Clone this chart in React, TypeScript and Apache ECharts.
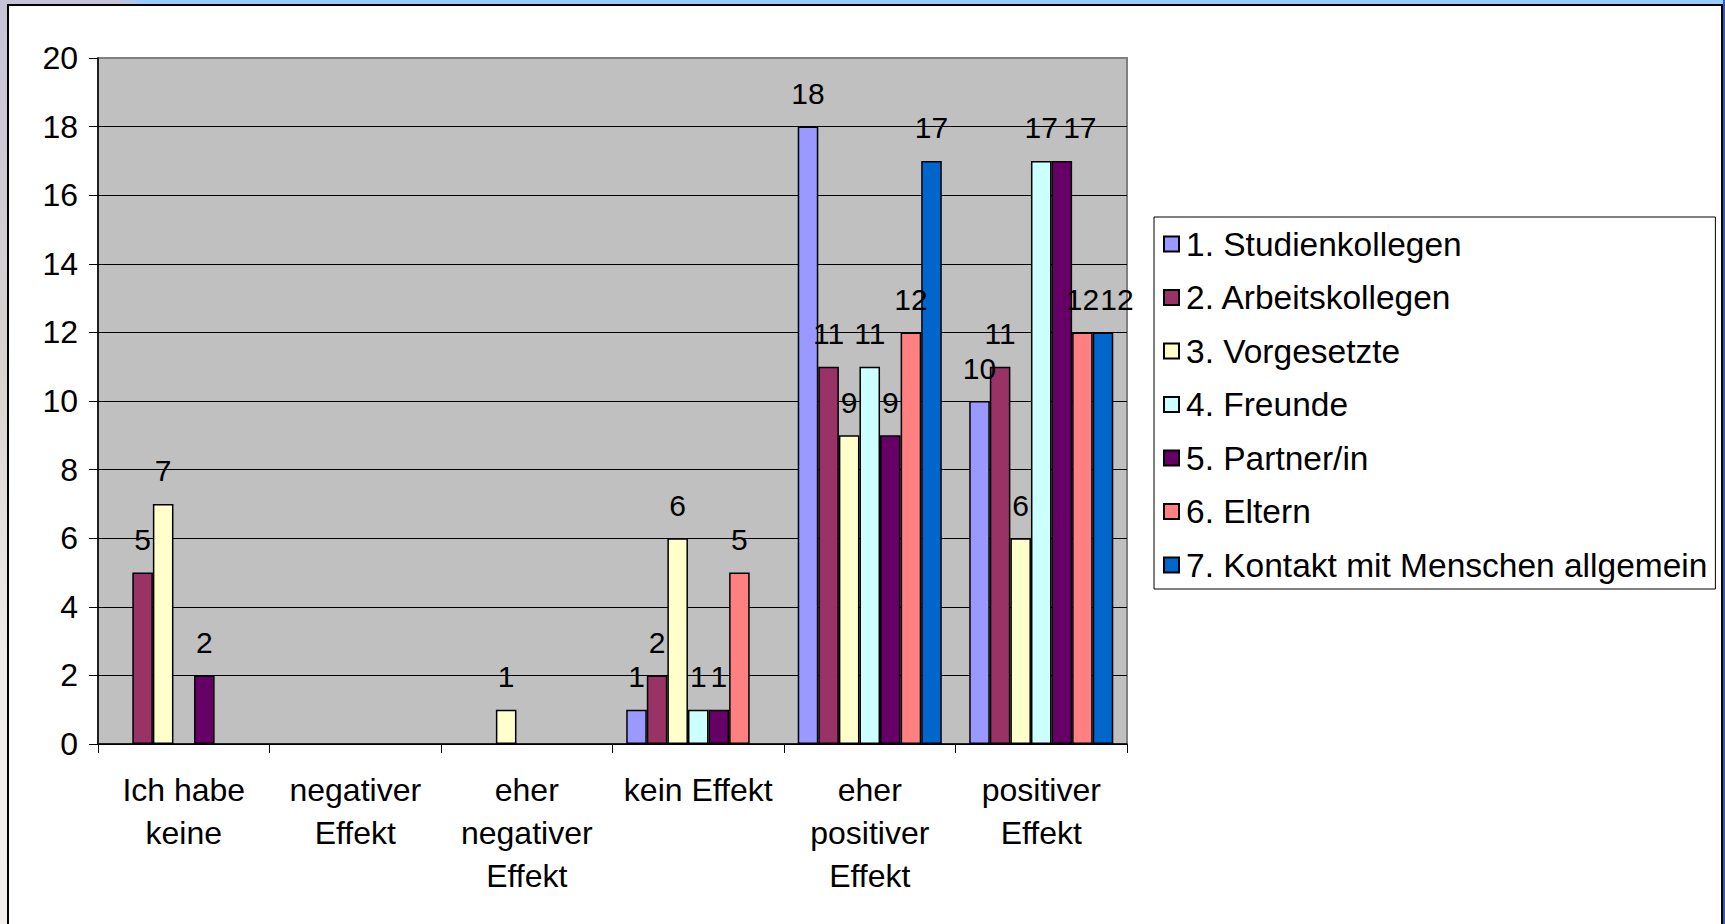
import React, { useEffect, useRef } from "react";
import * as echarts from "echarts";

const categories = [
  "Ich habe\nkeine",
  "negativer\nEffekt",
  "eher\nnegativer\nEffekt",
  "kein Effekt",
  "eher\npositiver\nEffekt",
  "positiver\nEffekt",
];

const seriesNames = [
  "1. Studienkollegen",
  "2. Arbeitskollegen",
  "3. Vorgesetzte",
  "4. Freunde",
  "5. Partner/in",
  "6. Eltern",
  "7. Kontakt mit Menschen allgemein",
];

const studienkollegen = [0, 0, 0, 1, 18, 10];
const arbeitskollegen = [5, 0, 0, 2, 11, 11];
const vorgesetzte = [7, 0, 1, 6, 9, 6];
const freunde = [0, 0, 0, 1, 11, 17];
const partner = [2, 0, 0, 1, 9, 17];
const eltern = [0, 0, 0, 5, 12, 12];
const kontakt = [0, 0, 0, 0, 17, 12];

const seriesValues = [studienkollegen, arbeitskollegen, vorgesetzte, freunde, partner, eltern, kontakt];

const colors = ["#9999FF", "#993366", "#FFFFCC", "#CCFFFF", "#660066", "#FF8080", "#0066CC"];

const yMin = 0;
const yMax = 20;
const yInterval = 2;

// label nudges (style only) as in the original where labels collide: "seriesIndex-categoryIndex" -> dx
const labelNudge: Record<string, number> = { "4-5": 18, "6-5": 14 };

const FONT = "'Liberation Sans', Arial, sans-serif";

export default function App() {
  const ref = useRef<HTMLDivElement>(null);

  useEffect(() => {
    if (!ref.current) return;
    const chart = echarts.init(ref.current, undefined, { renderer: "svg" });
    chart.setOption({
      animation: false,
      backgroundColor: "transparent",
      textStyle: { fontFamily: FONT },
      grid: {
        left: 98,
        top: 58,
        right: 598,
        bottom: 180,
        show: true,
        backgroundColor: "#C0C0C0",
        borderColor: "#808080",
        borderWidth: 2,
      },
      legend: {
        orient: "vertical",
        left: 1154,
        top: 217,
        padding: [10, 8, 7, 9],
        itemGap: 19.5,
        itemWidth: 15,
        itemHeight: 15,
        icon: "rect",
        backgroundColor: "#FFFFFF",
        borderColor: "#000000",
        borderWidth: 1,
        selectedMode: false,
        textStyle: { fontSize: 33.5, lineHeight: 33, color: "#000", fontFamily: FONT, padding: [0, 0, 0, 2] },
        data: seriesNames,
      },
      xAxis: {
        type: "category",
        data: categories,
        axisLine: { show: true, lineStyle: { color: "#000", width: 1.5 } },
        axisTick: { show: true, alignWithLabel: false, length: 9, lineStyle: { color: "#000", width: 1 } },
        axisLabel: {
          interval: 0,
          margin: 24,
          fontSize: 32,
          lineHeight: 43,
          color: "#000",
          fontFamily: FONT,
          align: "center",
        },
      },
      yAxis: {
        type: "value",
        min: yMin,
        max: yMax,
        interval: yInterval,
        axisLine: { show: true, lineStyle: { color: "#000", width: 1.5 } },
        axisTick: { show: true, length: 9, lineStyle: { color: "#000", width: 1 } },
        axisLabel: { margin: 20, fontSize: 32, color: "#000", fontFamily: FONT },
        splitLine: { show: true, showMaxLine: false, lineStyle: { color: "#000", width: 1 } },
      },
      series: seriesNames.map((name, i) => ({
        name,
        type: "bar",
        barGap: "0%",
        barCategoryGap: "16%",
        data: seriesValues[i].map((v, j) => {
          if (v === 0) return null;
          const dx = labelNudge[`${i}-${j}`];
          return dx ? { value: v, label: { offset: [dx, 0] } } : v;
        }),
        itemStyle: { color: colors[i], borderColor: "#000", borderWidth: 1.5 },
        label: {
          show: true,
          position: "top",
          distance: 18,
          fontSize: 30,
          color: "#000",
          fontFamily: FONT,
        },
      })),
    });
    return () => chart.dispose();
  }, []);

  return (
    <div
      style={{
        position: "fixed",
        left: 0,
        top: 0,
        width: 1725,
        height: 924,
        overflow: "hidden",
        background: "linear-gradient(to right, #C6C3D6 0px, #C6C3D6 120px, #99CCFF 140px, #99CCFF 100%)",
      }}
    >
      <div
        style={{
          position: "absolute",
          left: 0,
          top: 0,
          width: 8,
          height: 924,
          background: "linear-gradient(to bottom, #C6C3D6 0%, #D9D3D0 40%, #EEEBE8 70%, #F3F1EF 100%)",
        }}
      />
      <div
        style={{
          position: "absolute",
          left: 1723,
          top: 0,
          width: 2,
          height: 924,
          background: "#2F5FA8",
        }}
      />
      <div
        style={{
          position: "absolute",
          left: 7,
          top: 4,
          width: 1716,
          height: 930,
          boxSizing: "border-box",
          background: "#FFFFFF",
          border: "2px solid #000",
        }}
      />
      <div ref={ref} style={{ position: "absolute", left: 0, top: 0, width: 1725, height: 924 }} />
    </div>
  );
}
